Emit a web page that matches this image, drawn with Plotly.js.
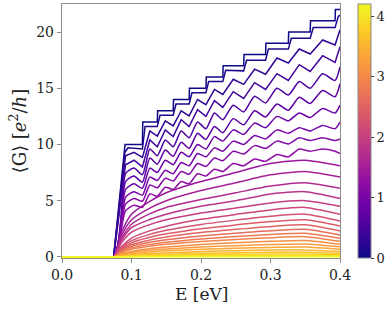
<!DOCTYPE html>
<html>
<head>
<meta charset="utf-8">
<script src="https://cdn.plot.ly/plotly-3.0.1.min.js"></script>
<style>html,body{margin:0;padding:0;background:#fff;}#chart{width:390px;height:309px;}</style>
</head>
<body>
<div id="chart"></div>
<script>
// ---- data ----
// disorder strength of each curve (colour value), 31 curves from 0 to 4.2
const W_VALUES = [0.00,0.14,0.28,0.42,0.56,0.70,0.84,0.98,1.12,1.26,1.40,1.54,1.68,1.82,1.96,2.10,2.24,2.38,2.52,2.66,2.80,2.94,3.08,3.22,3.36,3.50,3.64,3.78,3.92,4.06,4.20];

// clean staircase
const E_C00 = [0,0.0743,0.0907,0.1157,0.1162,0.1371,0.1376,0.160,0.1605,0.1829,0.1834,0.2071,0.2076,0.2314,0.2319,0.2614,0.2619,0.2929,0.2934,0.3257,0.3262,0.3571,0.3576,0.3929,0.3934,0.4];
const G_C00 = [0,0,10,10,12,12,13,13,14,14,15,15,16,16,17,17,18,18,19,19,20,20,21,21,22,22];

// nearly clean, rounded staircase
const E_C01 = [0,0.0743,0.0905,0.095,0.1157,0.1195,0.1371,0.141,0.160,0.164,0.1829,0.187,0.2071,0.211,0.2314,0.2355,0.2614,0.2655,0.2929,0.297,0.3257,0.33,0.3571,0.3615,0.3929,0.3975,0.4];
const G_C01 = [0,0,9.3,9.7,9.6,11.6,11.6,12.6,12.6,13.6,13.6,14.6,14.6,15.6,15.6,16.6,16.55,17.5,17.5,18.5,18.5,19.45,19.45,20.4,20.4,21.4,21.5];

// weak disorder curves with dips at the subband thresholds
const E_FINE = [0,0.0743,0.0914,0.1036,0.1157,0.1264,0.1371,0.1486,0.160,0.1715,0.1829,0.195,0.2071,0.2193,0.2314,0.2464,0.2614,0.2771,0.2929,0.3093,0.3257,0.3414,0.3571,0.375,0.3929,0.4];
const G_C02 = [0,0,9.0,9.3,8.85,11.2,10.75,12.1,11.65,13.0,12.55,14.0,13.55,14.9,14.45,15.8,15.35,16.7,16.25,17.7,17.25,18.5,18.05,19.3,18.85,20.2];
const G_C03 = [0,0,8.2,8.6,8.0,10.4,9.8,11.3,10.7,12.2,11.6,13.1,12.5,13.9,13.3,14.7,14.1,15.5,14.9,16.3,15.7,17.1,16.5,17.9,17.3,18.7];
const G_C04 = [0,0,7.4,7.9,7.3,9.6,9.0,10.4,9.8,11.2,10.6,12.0,11.4,12.8,12.2,13.5,12.9,14.3,13.7,15.0,14.4,15.6,15.0,16.3,15.7,16.9];
const G_C05 = [0,0,6.7,7.2,6.65,8.8,8.25,9.5,8.95,10.2,9.65,11.0,10.45,11.6,11.05,12.3,11.75,13.0,12.45,13.6,13.05,14.2,13.65,14.8,14.25,15.4];
const G_C06 = [0,0,6.0,6.5,6.1,7.9,7.5,8.6,8.2,9.3,8.9,10.0,9.6,10.7,10.3,11.3,10.9,11.9,11.5,12.5,12.1,12.8,12.4,13.2,12.8,13.5];
const G_C07 = [0,0,5.3,5.8,5.5,7.1,6.8,7.7,7.4,8.4,8.1,9.2,8.9,9.7,9.4,10.3,10.0,10.8,10.5,11.3,11.0,11.5,11.2,11.7,11.4,12.0];
const G_C08 = [0,0,4.7,5.2,4.95,6.4,6.15,7.0,6.75,7.6,7.35,8.3,8.05,8.8,8.55,9.4,9.15,9.9,9.65,10.3,10.05,10.6,10.35,10.6,10.35,10.5];
const G_C09 = [0,0,4.1,4.6,4.4,5.6,5.4,6.2,6.0,6.7,6.5,7.4,7.2,7.8,7.6,8.3,8.1,8.7,8.5,9.1,8.9,9.6,9.4,9.6,9.4,9.2];

// stronger disorder curves (smooth arches)
const E_COARSE = [0,0.0743,0.085,0.1,0.125,0.15,0.2,0.25,0.3,0.35,0.4];
const G_C10 = [0,0,2.1,3.8,4.9,5.7,6.7,7.5,8.3,8.6,8.1];
const G_C11 = [0,0,1.8,3.3,4.3,5.0,5.9,6.6,7.3,7.6,7.1];
const G_C12 = [0,0,1.6,2.9,3.8,4.4,5.1,5.7,6.3,6.6,6.1];
const G_C13 = [0,0,1.4,2.6,3.3,3.8,4.5,5.0,5.6,5.8,5.2];
const G_C14 = [0,0,1.2,2.2,2.85,3.3,3.9,4.35,4.8,5.0,4.5];
const G_C15 = [0,0,0.88,1.67,2.29,2.73,3.34,3.78,4.18,4.4,3.8];
const G_C16 = [0,0,0.76,1.44,1.98,2.36,2.89,3.27,3.61,3.8,3.2];
const G_C17 = [0,0,0.66,1.25,1.72,2.05,2.51,2.84,3.14,3.3,2.75];
const G_C18 = [0,0,0.57,1.08,1.48,1.77,2.17,2.45,2.71,2.85,2.3];
const G_C19 = [0,0,0.49,0.93,1.27,1.52,1.86,2.11,2.33,2.45,1.95];
const G_C20 = [0,0,0.42,0.80,1.09,1.30,1.60,1.81,2.0,2.1,1.65];
const G_C21 = [0,0,0.36,0.68,0.94,1.12,1.37,1.55,1.71,1.8,1.38];
const G_C22 = [0,0,0.25,0.49,0.73,0.88,1.10,1.26,1.39,1.45,1.12];
const G_C23 = [0,0,0.20,0.39,0.58,0.70,0.87,1.0,1.10,1.15,0.89];
const G_C24 = [0,0,0.15,0.30,0.44,0.54,0.67,0.77,0.84,0.88,0.68];
const G_C25 = [0,0,0.07,0.17,0.29,0.36,0.47,0.55,0.61,0.62,0.48];
const G_C26 = [0,0,0.05,0.12,0.19,0.24,0.32,0.37,0.41,0.42,0.32];
const G_C27 = [0,0,0.03,0.07,0.12,0.15,0.20,0.23,0.25,0.26,0.20];
const G_C28 = [0,0,0.02,0.04,0.06,0.08,0.10,0.12,0.14,0.14,0.10];
const G_C29 = [0,0,0.01,0.02,0.03,0.035,0.045,0.05,0.06,0.06,0.045];
const G_C30 = [0,0,0,0.005,0.01,0.012,0.015,0.018,0.02,0.02,0.015];

const X_TICKS = [0.0,0.1,0.2,0.3,0.4];
const Y_TICKS = [0,5,10,15,20];
const C_TICKS = [0,1,2,3,4];
const C_MAX = 4.2;

// ---- styling ----
const PLASMA = [
  [0.0,'#0d0887'],[0.1,'#41049d'],[0.2,'#6a00a8'],[0.3,'#8f0da4'],[0.4,'#b12a90'],
  [0.5,'#cc4778'],[0.6,'#e16462'],[0.7,'#f2844b'],[0.8,'#fca636'],[0.9,'#fcce25'],[1.0,'#f0f921']
];
function hex2rgb(h){return [parseInt(h.slice(1,3),16),parseInt(h.slice(3,5),16),parseInt(h.slice(5,7),16)];}
function plasma(t){
  t=Math.max(0,Math.min(1,t));
  for(let i=1;i<PLASMA.length;i++){
    if(t<=PLASMA[i][0]){
      const a=PLASMA[i-1],b=PLASMA[i];
      const f=(t-a[0])/(b[0]-a[0]);
      const ca=hex2rgb(a[1]),cb=hex2rgb(b[1]);
      return 'rgb('+ca.map((v,k)=>Math.round(v+(cb[k]-v)*f)).join(',')+')';
    }
  }
  return PLASMA[PLASMA.length-1][1];
}

const SERIES = [
  [E_C00,G_C00],[E_C01,G_C01],
  [E_FINE,G_C02],[E_FINE,G_C03],[E_FINE,G_C04],[E_FINE,G_C05],[E_FINE,G_C06],[E_FINE,G_C07],[E_FINE,G_C08],[E_FINE,G_C09],
  [E_COARSE,G_C10],[E_COARSE,G_C11],[E_COARSE,G_C12],[E_COARSE,G_C13],[E_COARSE,G_C14],[E_COARSE,G_C15],[E_COARSE,G_C16],[E_COARSE,G_C17],[E_COARSE,G_C18],[E_COARSE,G_C19],
  [E_COARSE,G_C20],[E_COARSE,G_C21],[E_COARSE,G_C22],[E_COARSE,G_C23],[E_COARSE,G_C24],[E_COARSE,G_C25],[E_COARSE,G_C26],[E_COARSE,G_C27],[E_COARSE,G_C28],[E_COARSE,G_C29],[E_COARSE,G_C30]
];

const traces = SERIES.map((s,i)=>{
  const smooth = (s[0]===E_COARSE) || (s[0]===E_FINE && i>=4);
  return {
    type:'scatter', mode:'lines', x:s[0], y:s[1],
    line:{color:plasma(W_VALUES[i]/C_MAX), width:1.5, shape:(smooth?'spline':'linear'), smoothing:0.6},
    hoverinfo:'skip', showlegend:false
  };
});

// colour bar carrier (point placed outside the visible range)
traces.push({
  type:'scatter', mode:'markers', x:[-1], y:[-1], hoverinfo:'skip', showlegend:false,
  marker:{color:[0], cmin:0, cmax:C_MAX, colorscale:PLASMA, showscale:true, size:1, opacity:0,
    colorbar:{x:1.064, xanchor:'left', xpad:0, y:0, yanchor:'bottom', ypad:0, len:1, lenmode:'fraction',
      thickness:13, thicknessmode:'pixels', outlinewidth:1, outlinecolor:'#888',
      tickvals:C_TICKS, ticks:'outside', ticklen:3, tickcolor:'#333',
      tickfont:{family:'DejaVu Serif', size:13, color:'#222'}}}
});

const FONT = 'DejaVu Serif';
const layout = {
  width:390, height:309,
  margin:{l:62, r:48, t:4, b:51},
  paper_bgcolor:'#fff', plot_bgcolor:'#fff',
  font:{family:FONT, color:'#222'},
  xaxis:{range:[0,0.4], tickvals:X_TICKS, tickformat:'.1f', showgrid:false, zeroline:false,
    showline:true, linecolor:'#8c8c8c', linewidth:1.2, mirror:true,
    ticks:'outside', ticklen:4, tickcolor:'#8c8c8c', tickfont:{family:FONT,size:14,color:'#222'}},
  yaxis:{range:[-0.1,22.5], tickvals:Y_TICKS, showgrid:false, zeroline:false,
    showline:true, linecolor:'#8c8c8c', linewidth:1.2, mirror:true,
    ticks:'outside', ticklen:4, tickcolor:'#8c8c8c', tickfont:{family:FONT,size:14,color:'#222'}},
  annotations:[
    {text:'E [eV]', xref:'paper', yref:'paper', x:0.5, y:-0.142, xanchor:'center', yanchor:'middle',
     showarrow:false, font:{family:FONT,size:17,color:'#222'}},
    {text:'⟨G⟩ [<i>e</i><sup>2</sup>/<i>h</i>]', xref:'paper', yref:'paper', x:-0.157, y:0.5, xanchor:'center', yanchor:'middle',
     textangle:-90, showarrow:false, font:{family:FONT,size:18,color:'#222'}}
  ]
};

Plotly.newPlot('chart', traces, layout, {staticPlot:true, displayModeBar:false});
</script>
</body>
</html>
